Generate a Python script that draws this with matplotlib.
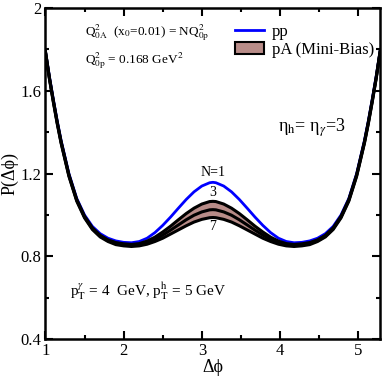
"""
P(dphi) correlation: pp vs pA (Mini-Bias band, N=3..7)
"""
import matplotlib
matplotlib.use('Agg')
import matplotlib.pyplot as plt
from matplotlib.lines import Line2D
from matplotlib.patches import Patch

plt.rcParams['font.family'] = ['Liberation Serif', 'DejaVu Serif']
plt.rcParams['mathtext.fontset'] = 'stix'

# Delta phi grid (symmetric about pi)
dphi = [1.00, 1.05, 1.10, 1.15, 1.20, 1.30, 1.40, 1.50, 1.60, 1.70, 1.80, 1.90,
        2.00, 2.10, 2.20, 2.30, 2.40, 2.50, 2.60, 2.70, 2.80, 2.90, 3.00, 3.10,
        3.1416,
        3.18, 3.28, 3.38, 3.48, 3.58, 3.68, 3.78, 3.88, 3.98, 4.08, 4.18, 4.28,
        4.38, 4.48, 4.58, 4.68, 4.78, 4.88, 4.98, 5.08, 5.13, 5.18, 5.23, 5.28]

p_pp = [1.790, 1.670, 1.560, 1.455, 1.360, 1.200, 1.080, 1.000, 0.945, 0.910, 0.888, 0.875,
        0.868, 0.866, 0.872, 0.888, 0.915, 0.950, 0.990, 1.033, 1.075, 1.112, 1.140, 1.156,
        1.158,
        1.156, 1.140, 1.112, 1.075, 1.033, 0.990, 0.950, 0.915, 0.888, 0.872, 0.866, 0.868,
        0.875, 0.888, 0.910, 0.945, 1.000, 1.080, 1.200, 1.360, 1.455, 1.560, 1.670, 1.790]

p_pa_n3 = [1.790, 1.665, 1.555, 1.450, 1.355, 1.195, 1.075, 0.994, 0.938, 0.902, 0.880, 0.867,
           0.861, 0.858, 0.862, 0.874, 0.893, 0.918, 0.946, 0.977, 1.007, 1.033, 1.053, 1.065,
           1.066,
           1.065, 1.053, 1.033, 1.007, 0.977, 0.946, 0.918, 0.893, 0.874, 0.862, 0.858, 0.861,
           0.867, 0.880, 0.902, 0.938, 0.994, 1.075, 1.195, 1.355, 1.450, 1.555, 1.665, 1.790]

p_pa_n5 = [1.788, 1.662, 1.551, 1.446, 1.351, 1.191, 1.071, 0.990, 0.934, 0.898, 0.876, 0.862,
           0.856, 0.853, 0.857, 0.866, 0.882, 0.903, 0.927, 0.952, 0.977, 0.999, 1.015, 1.025,
           1.026,
           1.025, 1.015, 0.999, 0.977, 0.952, 0.927, 0.903, 0.882, 0.866, 0.857, 0.853, 0.856,
           0.862, 0.876, 0.898, 0.934, 0.990, 1.071, 1.191, 1.351, 1.446, 1.551, 1.662, 1.788]

p_pa_n7 = [1.786, 1.659, 1.547, 1.442, 1.347, 1.187, 1.067, 0.986, 0.930, 0.894, 0.872, 0.857,
           0.851, 0.848, 0.851, 0.859, 0.872, 0.888, 0.908, 0.928, 0.948, 0.966, 0.979, 0.987,
           0.988,
           0.987, 0.979, 0.966, 0.948, 0.928, 0.908, 0.888, 0.872, 0.859, 0.851, 0.848, 0.851,
           0.857, 0.872, 0.894, 0.930, 0.986, 1.067, 1.187, 1.347, 1.442, 1.547, 1.659, 1.786]

BAND_COLOR = '#b88c88'

fig = plt.figure(figsize=(3.82, 3.82), dpi=100)
ax = fig.add_axes([0.119, 0.112, 0.876, 0.867])

ax.fill_between(dphi, p_pa_n7, p_pa_n3, color=BAND_COLOR, lw=0)
ax.plot(dphi, p_pp, color='#0000ff', lw=2.0)
for curve in (p_pa_n3, p_pa_n5, p_pa_n7):
    ax.plot(dphi, curve, color='black', lw=2.2)

ax.set_xlim(1, 5.28)
ax.set_ylim(0.4, 2.0)
ax.set_xticks([1, 2, 3, 4, 5])
ax.set_xticks([1.5, 2.5, 3.5, 4.5], minor=True)
ax.set_yticks([0.4, 0.8, 1.2, 1.6, 2.0])
ax.set_yticklabels(['0.4', '0.8', '1.2', '1.6', '2'])
ax.set_yticks([0.6, 1.0, 1.4, 1.8], minor=True)
ax.tick_params(which='both', direction='in', top=True, right=True, width=1.5,
               labelsize=12, pad=3)
ax.tick_params(which='major', length=6)
ax.tick_params(which='minor', length=3)
for sp in ax.spines.values():
    sp.set_linewidth(1.8)

ax.set_xlabel('Δϕ', fontsize=13, labelpad=0)
ax.set_ylabel('P(Δϕ)', fontsize=13, labelpad=1)

# annotations
ax.text(1.50, 1.88, r'Q$^2_{0\mathrm{A}}$  (x$_0$=0.01) = NQ$^2_{0\mathrm{p}}$', fontsize=9.5, va='center')
ax.text(1.50, 1.745, r'Q$^2_{0\mathrm{p}}$ = 0.168 GeV$^2$', fontsize=9.5, va='center')
ax.text(3.98, 1.42, r'η$_\mathrm{h}$= η$_\gamma$=3', fontsize=13, va='center')
ax.text(3.14, 1.175, 'N=1', fontsize=10, ha='center', va='bottom')
ax.text(3.14, 1.075, '3', fontsize=10, ha='center', va='bottom')
ax.text(3.14, 0.975, '7', fontsize=10, ha='center', va='top')
ax.text(1.31, 0.63, r'p$^\gamma_\mathrm{T}$ = 4  GeV, p$^\mathrm{h}_\mathrm{T}$ = 5 GeV', fontsize=11, va='center')

handles = [Line2D([], [], color='#0000ff', lw=2.0),
           Patch(facecolor=BAND_COLOR, edgecolor='black', lw=1.5)]
ax.legend(handles, ['pp', 'pA (Mini-Bias)'], loc='upper right', frameon=False,
          fontsize=12, handlelength=1.7, handletextpad=0.5, labelspacing=0.1,
          borderaxespad=0.55, bbox_to_anchor=(1.03, 1.0))

fig.savefig('out.png', dpi=100)
